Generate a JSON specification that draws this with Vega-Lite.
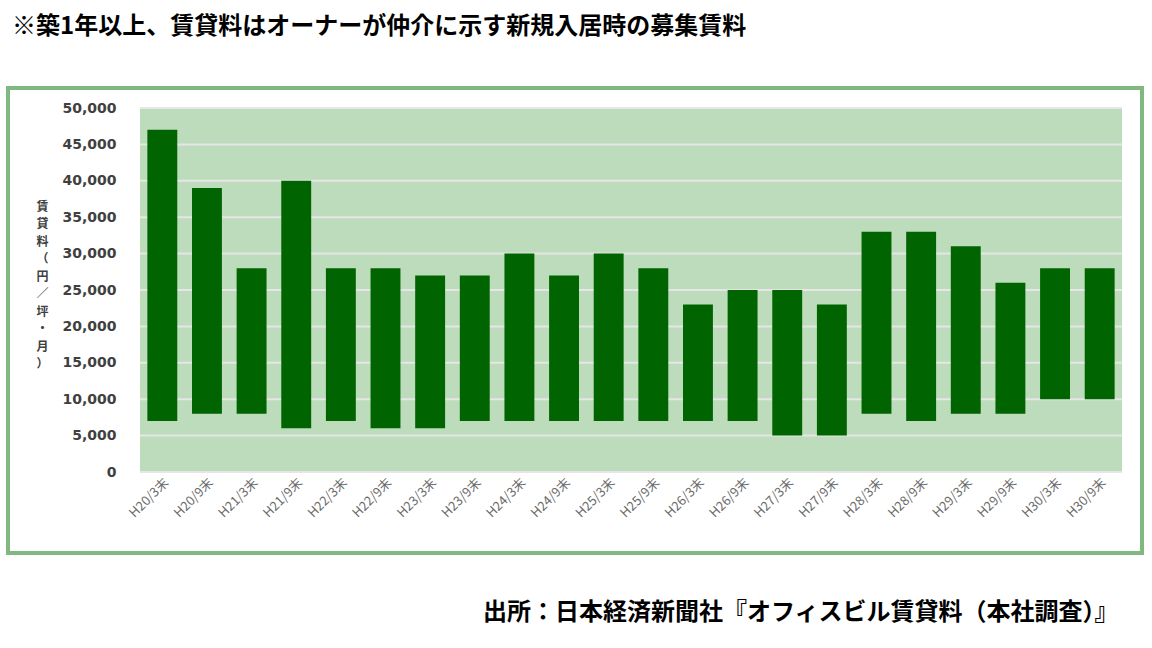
{
  "$schema": "https://vega.github.io/schema/vega-lite/v6.json",
  "width": 1134,
  "height": 465,
  "autosize": {"type": "none"},
  "padding": {"left": 8, "top": 88, "right": 10, "bottom": 95},
  "background": "white",
  "title": {
    "text": "※築1年以上、賃貸料はオーナーが仲介に示す新規入居時の募集賃料",
    "anchor": "start",
    "frame": "group",
    "dx": 4,
    "offset": 49,
    "font": "Noto Sans CJK JP",
    "fontSize": 24,
    "fontWeight": "bold",
    "color": "#000000"
  },
  "config": {
    "view": {"stroke": "#80b880", "strokeWidth": 4, "fill": "white"},
    "font": "Noto Sans CJK JP"
  },
  "resolve": {"axis": {"x": "independent", "y": "independent"}},
  "data": {
    "values": [
      {"period": "H20/3末", "low": 7000, "high": 47000},
      {"period": "H20/9末", "low": 8000, "high": 39000},
      {"period": "H21/3末", "low": 8000, "high": 28000},
      {"period": "H21/9末", "low": 6000, "high": 40000},
      {"period": "H22/3末", "low": 7000, "high": 28000},
      {"period": "H22/9末", "low": 6000, "high": 28000},
      {"period": "H23/3末", "low": 6000, "high": 27000},
      {"period": "H23/9末", "low": 7000, "high": 27000},
      {"period": "H24/3末", "low": 7000, "high": 30000},
      {"period": "H24/9末", "low": 7000, "high": 27000},
      {"period": "H25/3末", "low": 7000, "high": 30000},
      {"period": "H25/9末", "low": 7000, "high": 28000},
      {"period": "H26/3末", "low": 7000, "high": 23000},
      {"period": "H26/9末", "low": 7000, "high": 25000},
      {"period": "H27/3末", "low": 5000, "high": 25000},
      {"period": "H27/9末", "low": 5000, "high": 23000},
      {"period": "H28/3末", "low": 8000, "high": 33000},
      {"period": "H28/9末", "low": 7000, "high": 33000},
      {"period": "H29/3末", "low": 8000, "high": 31000},
      {"period": "H29/9末", "low": 8000, "high": 26000},
      {"period": "H30/3末", "low": 10000, "high": 28000},
      {"period": "H30/9末", "low": 10000, "high": 28000}
    ]
  },
  "layer": [
    {
      "mark": {"type": "rect", "color": "#bcdcbc"},
      "encoding": {
        "x": {"datum": "H20/3末", "type": "nominal", "bandPosition": -0.2463, "axis": null},
        "x2": {"datum": "H30/9末", "bandPosition": 1.2463},
        "y": {"datum": 0, "type": "quantitative", "axis": null},
        "y2": {"datum": 50000}
      }
    },
    {
      "data": {"values": [{"g": 0}, {"g": 5000}, {"g": 10000}, {"g": 15000}, {"g": 20000}, {"g": 25000}, {"g": 30000}, {"g": 35000}, {"g": 40000}, {"g": 45000}, {"g": 50000}]},
      "mark": {"type": "rule", "color": "#e6e6e6", "strokeWidth": 2},
      "encoding": {
        "x": {"datum": "H20/3末", "type": "nominal", "bandPosition": -0.2463, "axis": null},
        "x2": {"datum": "H30/9末", "bandPosition": 1.2463},
        "y": {"field": "g", "type": "quantitative", "axis": null}
      }
    },
    {
      "mark": {"type": "bar", "color": "#006400"},
      "encoding": {
        "x": {
          "field": "period",
          "type": "nominal",
          "sort": null,
          "scale": {
            "domain": ["H20/3末", "H20/9末", "H21/3末", "H21/9末", "H22/3末", "H22/9末", "H23/3末", "H23/9末", "H24/3末", "H24/9末", "H25/3末", "H25/9末", "H26/3末", "H26/9末", "H27/3末", "H27/9末", "H28/3末", "H28/9末", "H29/3末", "H29/9末", "H30/3末", "H30/9末"],
            "range": [132, 1114],
            "paddingInner": 0.33, "paddingOuter": 0.165, "align": 0.5
          },
          "axis": {
            "orient": "bottom",
            "offset": -81,
            "domain": false,
            "ticks": false,
            "labelAngle": -45,
            "labelFontSize": 13,
            "labelColor": "#6a6a6a",
            "labelPadding": 4,
            "title": "出所：日本経済新聞社『オフィスビル賃貸料（本社調査）』",
            "titleX": 1110,
            "titleY": 140,
            "titleAlign": "right",
            "titleBaseline": "middle",
            "titleFontSize": 24,
            "titleFontWeight": "bold",
            "titleColor": "#000000"
          }
        },
        "y": {
          "field": "high",
          "type": "quantitative",
          "scale": {"domain": [0, 50000], "range": [384, 20], "nice": false, "zero": false},
          "axis": {
            "orient": "left",
            "values": [0, 5000, 10000, 15000, 20000, 25000, 30000, 35000, 40000, 45000, 50000],
            "format": ",d",
            "offset": -116,
            "domain": false,
            "ticks": false,
            "grid": false,
            "labelPadding": 8,
            "labelFontSize": 14,
            "labelFontWeight": "bold",
            "labelColor": "#404040",
            "labelFont": "DejaVu Sans",
            "title": ["賃", "貸", "料", "（", "円", "／", "坪", "・", "月", "）"],
            "titleAngle": 0,
            "titleX": -82,
            "titleY": 113,
            "titleAlign": "center",
            "titleBaseline": "top",
            "titleLineHeight": 17.5,
            "titleFontSize": 12,
            "titleFontWeight": "bold",
            "titleColor": "#404040"
          }
        },
        "y2": {"field": "low"}
      }
    }
  ]
}
